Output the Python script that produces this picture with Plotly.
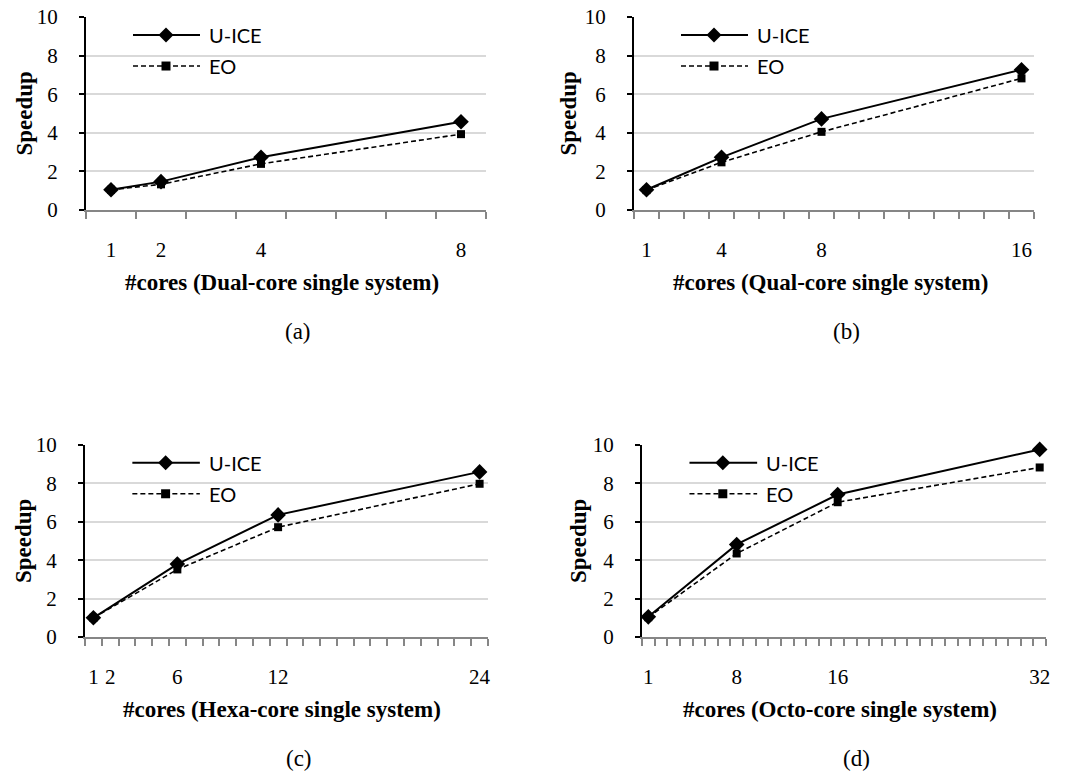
import plotly.graph_objects as go

# ---------------- data ----------------
a_cores = [1, 2, 4, 8]
a_uice = [1.05, 1.47, 2.73, 4.57]
a_eo = [1.05, 1.33, 2.39, 3.93]
a_ticks = [1, 2, 4, 8]

b_cores = [1, 4, 8, 16]
b_uice = [1.05, 2.73, 4.72, 7.27]
b_eo = [1.03, 2.47, 4.05, 6.82]
b_ticks = [1, 4, 8, 16]

c_cores = [1, 6, 12, 24]
c_uice = [1.0, 3.8, 6.36, 8.6]
c_eo = [1.0, 3.52, 5.72, 7.98]
c_ticks = [1, 2, 6, 12, 24]

d_cores = [1, 8, 16, 32]
d_uice = [1.05, 4.82, 7.42, 9.77]
d_eo = [1.03, 4.35, 7.02, 8.83]
d_ticks = [1, 8, 16, 32]

x_titles = ["#cores (Dual-core single system)", "#cores (Qual-core single system)",
            "#cores (Hexa-core single system)", "#cores (Octo-core single system)"]
captions = ["(a)", "(b)", "(c)", "(d)"]
series_names = ["U-ICE", "EO"]
y_title = "Speedup"

panels = [
    (a_cores, a_uice, a_eo, a_ticks, 8),
    (b_cores, b_uice, b_eo, b_ticks, 16),
    (c_cores, c_uice, c_eo, c_ticks, 24),
    (d_cores, d_uice, d_eo, d_ticks, 32),
]

# ---------------- layout geometry ----------------
W, H = 1068, 775
# plot-area pixel boxes (left, right, top, bottom)
boxes = [(86, 486, 17, 210), (634, 1034, 17, 210), (85, 488, 445, 637), (642, 1046, 445, 637)]
ytitle_shift = [-62, -66, -62, -64]

SERIF = "Liberation Serif"
SANS = "Lato"
GRID = "#d9d9d9"
XAX = "#868686"

fig = go.Figure()
layout = dict(
    template="none",
    width=W, height=H,
    margin=dict(l=0, r=0, t=0, b=0, pad=0),
    paper_bgcolor="white", plot_bgcolor="white",
    showlegend=False,
    font=dict(family=SERIF, size=20, color="black"),
)
annotations = []
shapes = []

for i, (cores, uice, eo, ticks, n) in enumerate(panels):
    k = "" if i == 0 else str(i + 1)
    xa, ya = "x" + k, "y" + k
    l, r, t, b = boxes[i]
    fig.add_trace(go.Scatter(
        x=cores, y=uice, name=series_names[0], xaxis=xa, yaxis=ya, mode="lines+markers",
        line=dict(color="black", width=2), cliponaxis=False,
        marker=dict(symbol="diamond", size=12, color="black"),
    ))
    fig.add_trace(go.Scatter(
        x=cores, y=eo, name=series_names[1], xaxis=xa, yaxis=ya, mode="lines+markers",
        line=dict(color="black", width=1.6, dash="5px,3px"), cliponaxis=False,
        marker=dict(symbol="square", size=8, color="black"),
    ))
    layout["xaxis" + k] = dict(
        domain=[l / W, r / W], anchor=ya, range=[0.5, n + 0.5], automargin=False,
        tickmode="array", tickvals=ticks, ticktext=[str(v) for v in ticks], ticks="",
        showgrid=False, zeroline=False, showline=True, linecolor=XAX, linewidth=2,
        ticklabelstandoff=20, tickfont=dict(family=SERIF, size=21, color="black"),
        minor=dict(tickmode="linear", tick0=0.5, dtick=1, ticks="outside", ticklen=7,
                   tickwidth=1.5, tickcolor=XAX, showgrid=False),
        fixedrange=True,
    )
    layout["yaxis" + k] = dict(
        domain=[1 - b / H, 1 - t / H], anchor=xa, range=[0, 10], automargin=False,
        tickmode="linear", dtick=2, tick0=0,
        showgrid=True, gridcolor=GRID, gridwidth=1.5, zeroline=False,
        showline=True, linecolor="black", linewidth=2,
        ticks="outside", ticklen=5, tickwidth=1.5, tickcolor="black",
        ticklabelstandoff=17, tickfont=dict(family=SERIF, size=21, color="black"),
        fixedrange=True,
    )
    xd, yd = xa + " domain", ya + " domain"
    # axis titles
    annotations.append(dict(text="<b>%s</b>" % y_title, xref=xd, yref=yd, x=0, y=0.5,
                            xshift=ytitle_shift[i], xanchor="center", yanchor="middle",
                            textangle=-90, showarrow=False,
                            font=dict(family=SERIF, size=23, color="black")))
    annotations.append(dict(text="<b>%s</b>" % x_titles[i], xref=xd, yref=yd, x=0.49, y=0,
                            yshift=-72, xanchor="center", yanchor="middle", showarrow=False,
                            font=dict(family=SERIF, size=23, color="black")))
    annotations.append(dict(text=captions[i], xref=xd, yref=yd, x=0.53, y=0,
                            yshift=-121, xanchor="center", yanchor="middle", showarrow=False,
                            font=dict(family=SERIF, size=23, color="black")))
    # legend (drawn inside plot area)
    ly = [0.907, 0.746]
    for j in range(2):
        shapes.append(dict(type="line", xref=xd, yref=yd, x0=0.1175, x1=0.285, y0=ly[j], y1=ly[j],
                           line=dict(color="black", width=2 if j == 0 else 1.6,
                                     dash="solid" if j == 0 else "5px,3px")))
        annotations.append(dict(text=series_names[j], xref=xd, yref=yd, x=0.302, y=ly[j],
                                xanchor="left", yanchor="middle", showarrow=False,
                                font=dict(family=SANS, size=20, color="black")))
    shapes.append(dict(type="path", xref=xd, yref=yd, xsizemode="pixel", ysizemode="pixel",
                       xanchor=0.2, yanchor=ly[0], path="M-7.5,0L0,7.5L7.5,0L0,-7.5Z",
                       fillcolor="black", line=dict(color="black", width=0)))
    shapes.append(dict(type="path", xref=xd, yref=yd, xsizemode="pixel", ysizemode="pixel",
                       xanchor=0.2, yanchor=ly[1], path="M-4.5,-4.5L4.5,-4.5L4.5,4.5L-4.5,4.5Z",
                       fillcolor="black", line=dict(color="black", width=0)))

layout["annotations"] = annotations
layout["shapes"] = shapes
fig.update_layout(**layout)
fig.write_html("out.html", config={"displayModeBar": False},
               post_script="document.body.style.margin='0';document.body.style.overflow='hidden';")
